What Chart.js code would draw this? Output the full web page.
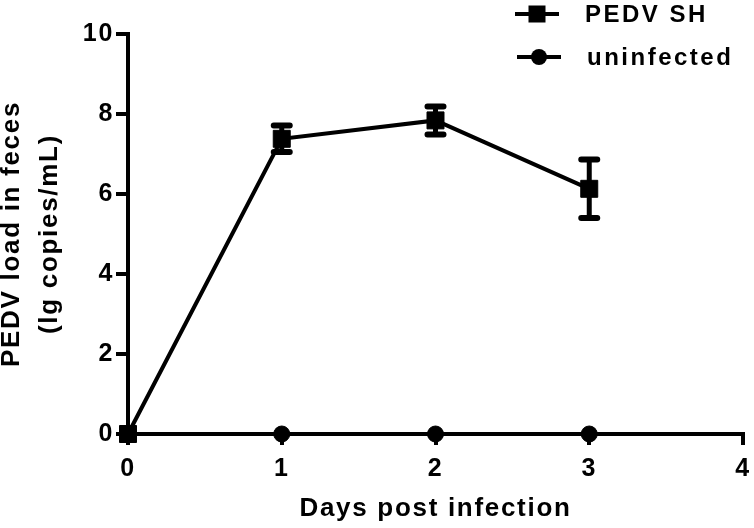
<!DOCTYPE html>
<html><head><meta charset="utf-8">
<script src="https://cdn.jsdelivr.net/npm/chart.js@4.4.0/dist/chart.umd.min.js"></script>
<style>html,body{margin:0;padding:0;background:#fff;overflow:hidden}#wrap{width:754px;height:528px}</style>
</head><body><div id="wrap"><canvas id="c" width="754" height="528"></canvas></div>
<script>
const days = [0, 1, 2, 3];
const pedvMean = [0, 7.38, 7.84, 6.13];
const pedvErr = [0, 0.33, 0.35, 0.73];
const uninfectedMean = [0, 0, 0, 0];
const xTicks = [0, 1, 2, 3, 4];
const yTicks = [0, 2, 4, 6, 8, 10];
const seriesLabels = ['PEDV SH', 'uninfected'];
const xTitle = 'Days post infection';
const yTitle = ['PEDV load in feces', '(lg copies/mL)'];

const FONT = '"Liberation Sans", Arial, Helvetica, sans-serif';
const SPACING = '1.7px';

const textSpacing = {
  id: 'textSpacing',
  beforeUpdate(chart) { chart.ctx.letterSpacing = SPACING; },
  beforeDraw(chart) { chart.ctx.letterSpacing = SPACING; }
};

const errorBars = {
  id: 'errorBars',
  beforeDatasetsDraw(chart) {
    const ctx = chart.ctx, ys = chart.scales.y;
    chart.data.datasets.forEach((ds, i) => {
      if (!ds.errors) return;
      const meta = chart.getDatasetMeta(i);
      ctx.save();
      ctx.strokeStyle = '#000';
      meta.data.forEach((pt, j) => {
        const e = ds.errors[j];
        if (!e) return;
        const v = ds.data[j].y;
        const yt = ys.getPixelForValue(v + e), yb = ys.getPixelForValue(v - e);
        ctx.lineWidth = 5; ctx.lineCap = 'butt';
        ctx.beginPath(); ctx.moveTo(pt.x, yt); ctx.lineTo(pt.x, yb); ctx.stroke();
        ctx.lineWidth = 6; ctx.lineCap = 'round';
        ctx.beginPath();
        ctx.moveTo(pt.x - 8, yt); ctx.lineTo(pt.x + 8, yt);
        ctx.moveTo(pt.x - 8, yb); ctx.lineTo(pt.x + 8, yb);
        ctx.stroke();
      });
      ctx.restore();
    });
  }
};

const customLegend = {
  id: 'customLegend',
  afterDraw(chart, args, opts) {
    const ctx = chart.ctx;
    ctx.save();
    ctx.letterSpacing = opts.spacing;
    chart.data.datasets.forEach((ds, i) => {
      const it = opts.items[i];
      ctx.strokeStyle = '#000'; ctx.fillStyle = '#000';
      ctx.lineWidth = 4; ctx.lineCap = 'butt';
      ctx.beginPath(); ctx.moveTo(it.x0, it.y); ctx.lineTo(it.x1, it.y); ctx.stroke();
      const cx = (it.x0 + it.x1) / 2;
      if (ds.pointStyle === 'rect') {
        ctx.fillRect(cx - 8.5, it.y - 8.5, 17, 17);
      } else {
        ctx.beginPath(); ctx.arc(cx, it.y, 8, 0, Math.PI * 2); ctx.fill();
      }
      ctx.font = 'bold 24px ' + FONT;
      ctx.textAlign = 'left'; ctx.textBaseline = 'middle';
      ctx.fillText(ds.label, it.tx, it.y + 1);
    });
    ctx.restore();
  }
};

const axisCommon = {
  type: 'linear',
  grid: { display: true, drawOnChartArea: false, drawTicks: true, lineWidth: 4, color: '#000' },
  border: { display: true, color: '#000', width: 4 },
};

new Chart(document.getElementById('c'), {
  type: 'line',
  data: {
    datasets: [
      {
        label: seriesLabels[0],
        data: days.map((d, i) => ({ x: d, y: pedvMean[i] })),
        errors: pedvErr,
        borderColor: '#000', backgroundColor: '#000', borderWidth: 4,
        pointStyle: 'rect', pointRadius: 12, pointBorderWidth: 1,
        pointBackgroundColor: '#000', pointBorderColor: '#000',
        tension: 0, clip: false
      },
      {
        label: seriesLabels[1],
        data: days.map((d, i) => ({ x: d, y: uninfectedMean[i] })),
        borderColor: '#000', backgroundColor: '#000', borderWidth: 4,
        pointStyle: 'circle', pointRadius: 8, pointBorderWidth: 1,
        pointBackgroundColor: '#000', pointBorderColor: '#000',
        tension: 0, clip: false
      }
    ]
  },
  options: {
    responsive: false, animation: false, devicePixelRatio: 1,
    layout: { autoPadding: false, padding: { top: 34, right: 11, left: 0, bottom: 0 } },
    plugins: {
      legend: { display: false },
      tooltip: { enabled: false },
      customLegend: {
        spacing: '2.5px',
        items: [
          { x0: 515, x1: 559, y: 14, tx: 585 },
          { x0: 517, x1: 561, y: 57, tx: 587 }
        ]
      }
    },
    scales: {
      x: Object.assign({}, axisCommon, {
        min: 0, max: 4,
        grid: Object.assign({}, axisCommon.grid, { tickLength: 11 }),
        afterBuildTicks: s => { s.ticks = xTicks.map(v => ({ value: v })); },
        afterFit: s => { s.height = 94; s.paddingLeft = 0; s.paddingRight = 0; },
        ticks: { color: '#000', padding: 9.5, font: { family: FONT, size: 25, weight: 'bold', lineHeight: 1.2 } },
        title: { display: true, text: xTitle, color: '#000', padding: { top: 0, bottom: 3.9 },
                 font: { family: FONT, size: 26, weight: 'bold', lineHeight: 1.2 } }
      }),
      y: Object.assign({}, axisCommon, {
        min: 0, max: 10,
        grid: Object.assign({}, axisCommon.grid, { tickLength: 12 }),
        afterBuildTicks: s => { s.ticks = yTicks.map(v => ({ value: v })); },
        afterFit: s => { s.width = 128; s.paddingTop = 0; s.paddingBottom = 0; },
        ticks: { color: '#000', padding: 2, font: { family: FONT, size: 25, weight: 'bold', lineHeight: 1.2 } },
        title: { display: true, text: yTitle, color: '#000', padding: { top: -7.4, bottom: 0 },
                 font: { family: FONT, size: 26, weight: 'bold', lineHeight: 1.46 } }
      })
    }
  },
  plugins: [textSpacing, errorBars, customLegend]
});
</script>
</body></html>
